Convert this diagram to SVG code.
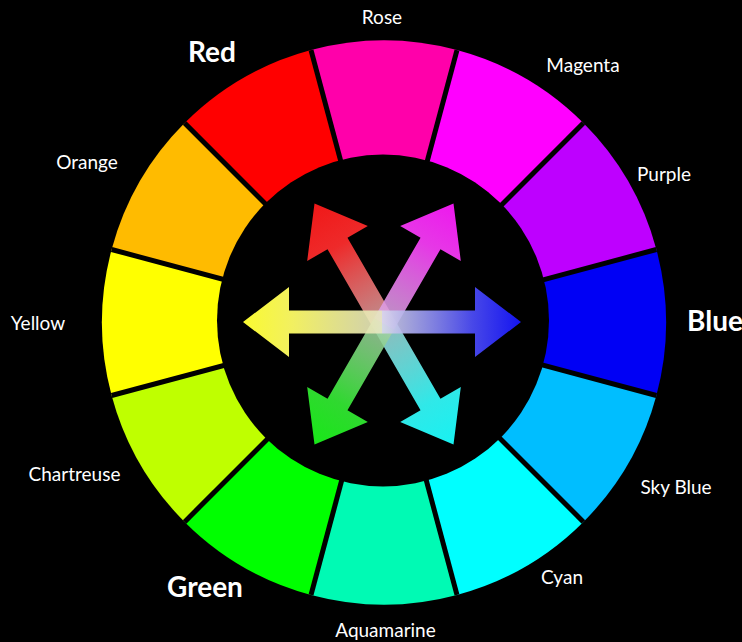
<svg xmlns="http://www.w3.org/2000/svg" width="742" height="642" viewBox="0 0 742 642">
<style>
.lbl{font-family:Lato,"Open Sans","Liberation Sans",sans-serif;font-size:19px;fill:#ffffff;text-anchor:middle}
.big{font-family:Lato,"Open Sans","Liberation Sans",sans-serif;font-size:28px;font-weight:bold;fill:#ffffff;text-anchor:middle}
.sep{stroke:#000;stroke-width:5}
</style>
<defs>
<path id="half" d="M0 -11.5 L93 -11.5 L93 -35 L139 0 L93 35 L93 11.5 L0 11.5 Z"/>
<linearGradient id="gR" x1="0" y1="0" x2="1" y2="0"><stop offset="0" stop-color="#e0a8a8" stop-opacity="0.85"/><stop offset="0.65" stop-color="#ee2a2a"/><stop offset="1" stop-color="#f01818"/></linearGradient>
<linearGradient id="gM" x1="0" y1="0" x2="1" y2="0"><stop offset="0" stop-color="#dcb0e4" stop-opacity="0.85"/><stop offset="0.65" stop-color="#e638e6"/><stop offset="1" stop-color="#ee18ee"/></linearGradient>
<linearGradient id="gY" x1="0" y1="0" x2="1" y2="0"><stop offset="0" stop-color="#e6e6c4" stop-opacity="0.9"/><stop offset="0.65" stop-color="#f2f060"/><stop offset="1" stop-color="#fafa30"/></linearGradient>
<linearGradient id="gB" x1="0" y1="0" x2="1" y2="0"><stop offset="0" stop-color="#d8d8ec" stop-opacity="0.9"/><stop offset="0.65" stop-color="#4848e8"/><stop offset="1" stop-color="#1414f0"/></linearGradient>
<linearGradient id="gG" x1="0" y1="0" x2="1" y2="0"><stop offset="0" stop-color="#a8d0a8" stop-opacity="0.85"/><stop offset="0.65" stop-color="#30d830"/><stop offset="1" stop-color="#18e818"/></linearGradient>
<linearGradient id="gC" x1="0" y1="0" x2="1" y2="0"><stop offset="0" stop-color="#a8dcdc" stop-opacity="0.85"/><stop offset="0.65" stop-color="#30e8e8"/><stop offset="1" stop-color="#18f2f2"/></linearGradient>
</defs>
<rect width="742" height="642" fill="#000"/>
<g id="wheel">
<path id="seg-blue" fill="#0000f5" d="M384 322.5 L656.391 395.487 A282 282 0 0 0 656.391 249.513 Z"/>
<path id="seg-purple" fill="#be00ff" d="M384 322.5 L656.391 249.513 A282 282 0 0 0 583.404 123.096 Z"/>
<path id="seg-magenta" fill="#ff00ff" d="M384 322.5 L583.404 123.096 A282 282 0 0 0 456.987 50.109 Z"/>
<path id="seg-rose" fill="#ff00aa" d="M384 322.5 L456.987 50.109 A282 282 0 0 0 311.013 50.109 Z"/>
<path id="seg-red" fill="#ff0000" d="M384 322.5 L311.013 50.109 A282 282 0 0 0 184.596 123.096 Z"/>
<path id="seg-orange" fill="#ffbb00" d="M384 322.5 L184.596 123.096 A282 282 0 0 0 111.609 249.513 Z"/>
<path id="seg-yellow" fill="#ffff00" d="M384 322.5 L111.609 249.513 A282 282 0 0 0 111.609 395.487 Z"/>
<path id="seg-chartreuse" fill="#bfff00" d="M384 322.5 L111.609 395.487 A282 282 0 0 0 184.596 521.904 Z"/>
<path id="seg-green" fill="#00ff00" d="M384 322.5 L184.596 521.904 A282 282 0 0 0 311.013 594.891 Z"/>
<path id="seg-aquamarine" fill="#00fab4" d="M384 322.5 L311.013 594.891 A282 282 0 0 0 456.987 594.891 Z"/>
<path id="seg-cyan" fill="#00ffff" d="M384 322.5 L456.987 594.891 A282 282 0 0 0 583.404 521.904 Z"/>
<path id="seg-skyblue" fill="#00beff" d="M384 322.5 L583.404 521.904 A282 282 0 0 0 656.391 395.487 Z"/>
<g id="separators">
<line class="sep" x1="656.391" y1="249.513" x2="111.609" y2="395.487"/>
<line class="sep" x1="583.404" y1="123.096" x2="184.596" y2="521.904"/>
<line class="sep" x1="456.987" y1="50.109" x2="311.013" y2="594.891"/>
<line class="sep" x1="311.013" y1="50.109" x2="456.987" y2="594.891"/>
<line class="sep" x1="184.596" y1="123.096" x2="583.404" y2="521.904"/>
<line class="sep" x1="111.609" y1="249.513" x2="656.391" y2="395.487"/>
</g>
<circle id="hub" cx="383" cy="320.5" r="166" fill="#000"/>
</g>
<g id="arrows">
<g transform="translate(384 324)">
<use href="#half" fill="url(#gR)" transform="rotate(-120)"/>
<use href="#half" fill="url(#gC)" transform="rotate(60)"/>
<use href="#half" fill="url(#gM)" transform="rotate(-60)"/>
<use href="#half" fill="url(#gG)" transform="rotate(120)"/>
</g>
<g transform="translate(382 322)">
<use href="#half" fill="url(#gY)" transform="rotate(180)"/>
<use href="#half" fill="url(#gB)"/>
</g>
</g>
<g id="labels">
<text class="lbl" x="382" y="24">Rose</text>
<text class="lbl" x="583" y="72">Magenta</text>
<text class="lbl" x="664" y="181">Purple</text>
<text class="big" x="715" y="331">Blue</text>
<text class="lbl" x="676" y="494">Sky Blue</text>
<text class="lbl" x="562" y="584">Cyan</text>
<text class="lbl" x="385.5" y="637">Aquamarine</text>
<text class="big" x="205" y="597">Green</text>
<text class="lbl" x="74.5" y="481">Chartreuse</text>
<text class="lbl" x="38" y="330">Yellow</text>
<text class="lbl" x="87" y="169">Orange</text>
<text class="big" x="212" y="62">Red</text>
</g>
</svg>
